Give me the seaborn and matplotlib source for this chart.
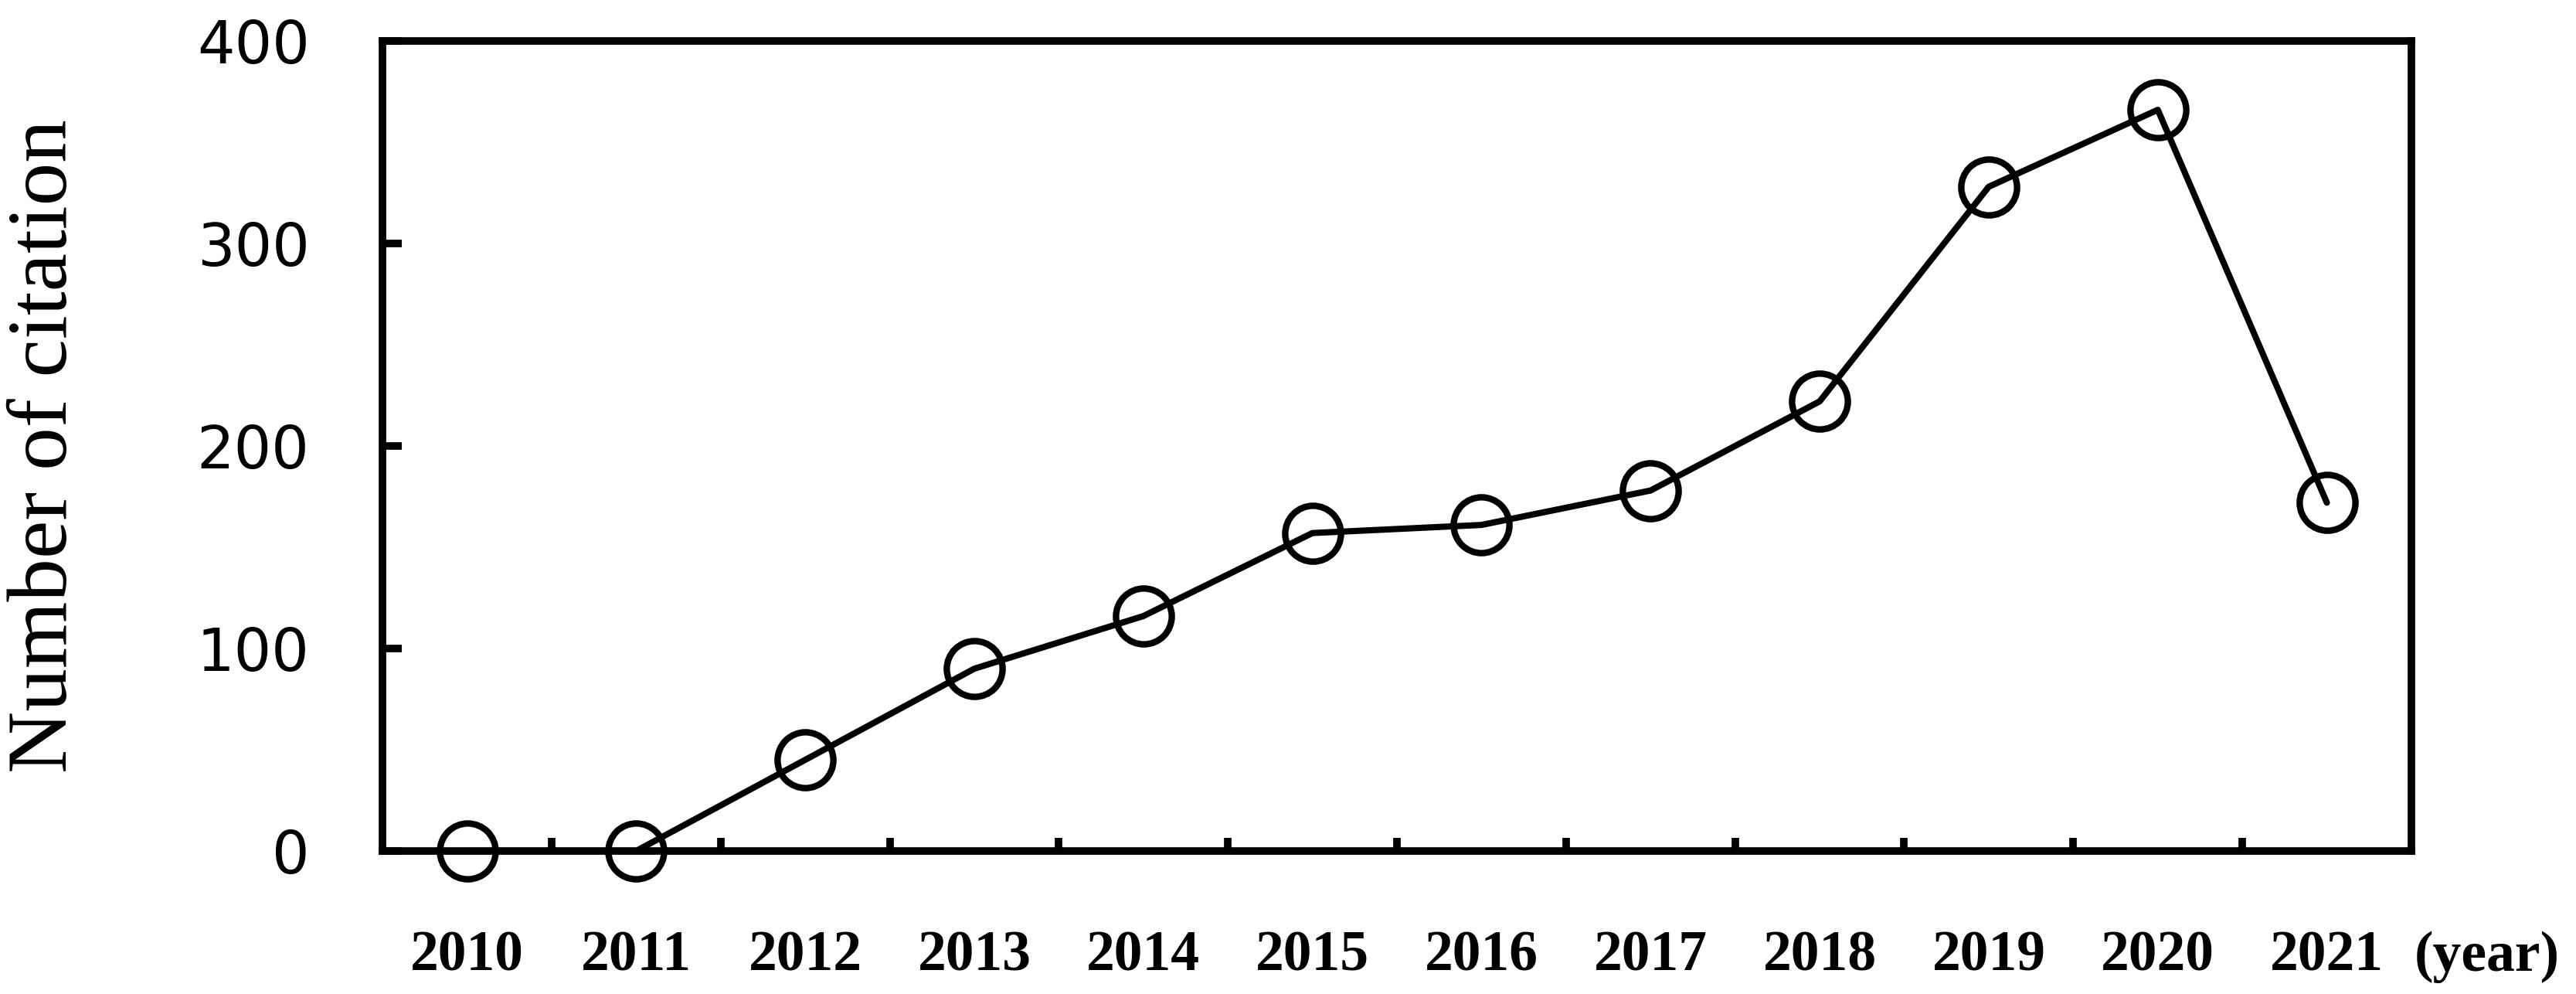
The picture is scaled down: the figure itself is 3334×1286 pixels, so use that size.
import numpy as np
import pandas as pd
import matplotlib
matplotlib.use("Agg")
import matplotlib.pyplot as plt
from matplotlib.ticker import FixedLocator
import seaborn as sns

# ---- data ----
years = ["2010", "2011", "2012", "2013", "2014", "2015",
         "2016", "2017", "2018", "2019", "2020", "2021"]
citations = [0, 0, 45, 90, 116, 157, 161, 178, 222, 328, 366, 172]
yticks = [0, 100, 200, 300, 400]
ylabel = "Number of citation"
unit_label = "(year)"

sns.set_style("white")
plt.rcParams["font.family"] = ["DejaVu Sans"]
plt.rcParams["text.color"] = "black"
plt.rcParams["xtick.color"] = "black"
plt.rcParams["ytick.color"] = "black"
plt.rcParams["axes.labelcolor"] = "black"

fig = plt.figure(figsize=(33.34, 12.86), dpi=100)
ax = fig.add_axes([0.1485, 0.1439, 0.9361 - 0.1485, 0.9588 - 0.1439])

df = pd.DataFrame({"year": years, "citations": citations})
sns.lineplot(data=df, x="year", y="citations", ax=ax, color="black",
             linewidth=5.8, marker="o", markersize=52,
             markerfacecolor="none", markeredgecolor="black",
             markeredgewidth=6, clip_on=False, sort=False, errorbar=None)

ax.set_xlim(-0.5, len(years) - 0.5)
ax.set_ylim(yticks[0], yticks[-1])
ax.set_yticks(yticks)
ax.set_xticks(range(len(years)), labels=years, fontfamily="Liberation Serif",
              fontweight="bold", fontsize=53, color="black")
ax.xaxis.set_minor_locator(FixedLocator(np.arange(0.5, len(years) - 1, 1)))

ax.tick_params(axis="x", which="major", length=0, pad=74, bottom=True,
               labelcolor="black")
ax.tick_params(axis="x", which="minor", direction="in", length=12, width=7,
               bottom=True, color="black")
ax.tick_params(axis="y", which="major", direction="in", length=18, width=7,
               pad=68, labelsize=55, left=True, color="black",
               labelcolor="black")

for s in ax.spines.values():
    s.set_visible(True)
    s.set_linewidth(7)
    s.set_color("black")

ax.set_xlabel("")
ax.set_ylabel(ylabel, fontfamily="Liberation Serif", fontsize=80,
              va="baseline", color="black")
ax.yaxis.set_label_coords(-0.1557, 0.5)

ax.annotate(unit_label, xy=(1.0, 0.0), xycoords="axes fraction",
            xytext=(3, -111.6), textcoords="offset points",
            ha="left", va="baseline", fontfamily="Liberation Serif",
            fontweight="bold", fontsize=53, color="black",
            annotation_clip=False)

fig.savefig("out.png", dpi=100)
